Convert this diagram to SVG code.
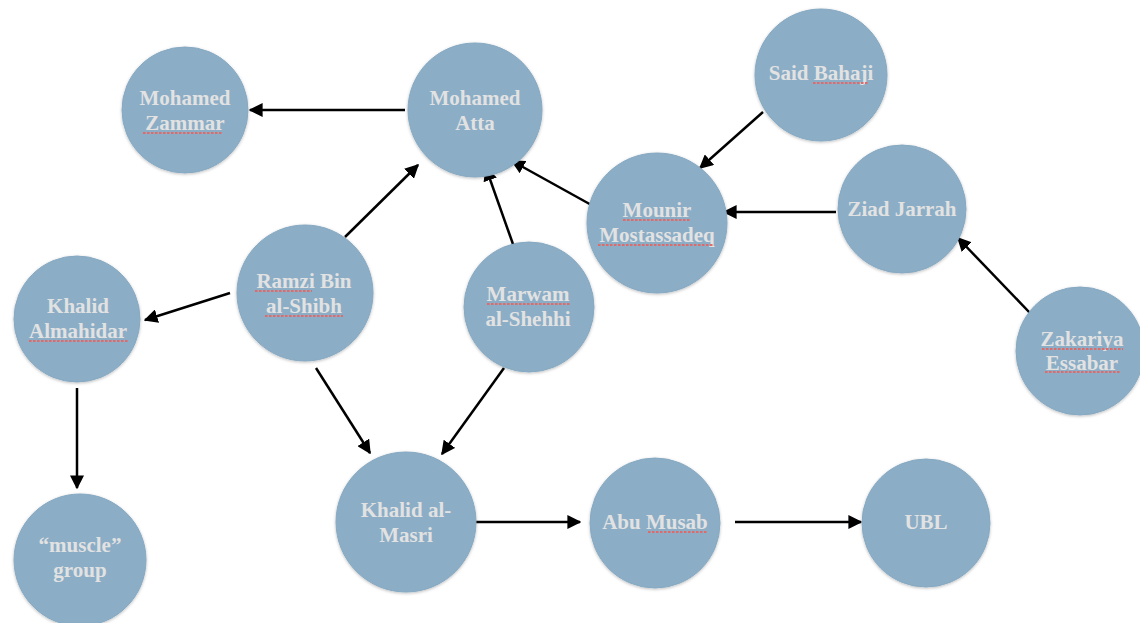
<svg xmlns="http://www.w3.org/2000/svg" width="1140" height="623" viewBox="0 0 1140 623">
<defs>
<style>
.n{fill:#8badc6;stroke:#86a9c2;stroke-width:1}
.t{font-family:"Liberation Serif","Times New Roman",serif;font-weight:bold;font-size:21px;fill:#e2e2e2;text-anchor:middle}
.e{stroke:#000;stroke-width:2.5;fill:none;marker-end:url(#ah)}
.sq{stroke:#e06a6a;stroke-width:1.8;stroke-dasharray:2.5 1.5;fill:none}
</style>
<marker id="ah" viewBox="0 0 10 10" refX="9" refY="5" markerWidth="5.6" markerHeight="5.6" orient="auto" markerUnits="strokeWidth">
<path d="M0,0 L10,5 L0,10 z" fill="#000"/>
</marker>
<filter id="sh" x="-10%" y="-10%" width="120%" height="120%">
<feDropShadow dx="0" dy="1" stdDeviation="1.5" flood-color="#000" flood-opacity="0.25"/>
</filter>
</defs>
<rect width="1140" height="623" fill="#fff"/>
<g id="connectors">
<line class="e" x1="405" y1="110" x2="250" y2="110"/>
<line class="e" x1="763" y1="112" x2="700" y2="168"/>
<line class="e" x1="595" y1="207" x2="512" y2="161"/>
<line class="e" x1="836" y1="212" x2="724" y2="212"/>
<line class="e" x1="1030" y1="313" x2="958" y2="238"/>
<line class="e" x1="345" y1="237" x2="418" y2="165"/>
<line class="e" x1="514" y1="247" x2="486" y2="168"/>
<line class="e" x1="230" y1="293" x2="145" y2="320"/>
<line class="e" x1="77" y1="388" x2="77" y2="488"/>
<line class="e" x1="316" y1="368" x2="370" y2="453"/>
<line class="e" x1="504" y1="368" x2="442" y2="454"/>
<line class="e" x1="476" y1="522" x2="580" y2="522"/>
<line class="e" x1="735" y1="522" x2="861" y2="522"/>
</g>
<g id="n-zammar"><circle class="n" filter="url(#sh)" cx="185" cy="110" r="63"/><text class="t" x="185" y="105">Mohamed</text><text class="t" x="185" y="130">Zammar</text><line class="sq" x1="143" y1="133" x2="223" y2="133"/></g>
<g id="n-atta"><circle class="n" filter="url(#sh)" cx="475" cy="110" r="67"/><text class="t" x="475" y="105">Mohamed</text><text class="t" x="475" y="130">Atta</text></g>
<g id="n-bahaji"><circle class="n" filter="url(#sh)" cx="821" cy="75" r="66"/><text class="t" x="821" y="80">Said Bahaji</text><line class="sq" x1="813" y1="83" x2="869" y2="83"/></g>
<g id="n-mounir"><circle class="n" filter="url(#sh)" cx="657" cy="223" r="70"/><text class="t" x="657" y="217">Mounir</text><text class="t" x="657" y="242">Mostassadeq</text><line class="sq" x1="623" y1="220" x2="690" y2="220"/><line class="sq" x1="598" y1="245" x2="713" y2="245"/></g>
<g id="n-ziad"><circle class="n" filter="url(#sh)" cx="902" cy="209" r="64"/><text class="t" x="902" y="216">Ziad Jarrah</text></g>
<g id="n-zakariya"><circle class="n" filter="url(#sh)" cx="1080" cy="351" r="64"/><text class="t" x="1082" y="346">Zakariya</text><text class="t" x="1082" y="370">Essabar</text><line class="sq" x1="1042" y1="349" x2="1123" y2="349"/><line class="sq" x1="1045" y1="372" x2="1120" y2="372"/></g>
<g id="n-almahidar"><circle class="n" filter="url(#sh)" cx="77" cy="319" r="63"/><text class="t" x="78" y="313">Khalid</text><text class="t" x="78" y="338">Almahidar</text><line class="sq" x1="29" y1="341" x2="128" y2="341"/></g>
<g id="n-ramzi"><circle class="n" filter="url(#sh)" cx="305" cy="293" r="68"/><text class="t" x="304" y="288">Ramzi Bin</text><text class="t" x="304" y="313">al-Shibh</text><line class="sq" x1="255" y1="291" x2="312" y2="291"/><line class="sq" x1="265" y1="316" x2="343" y2="316"/></g>
<g id="n-marwam"><circle class="n" filter="url(#sh)" cx="529" cy="307" r="65"/><text class="t" x="528" y="301">Marwam</text><text class="t" x="528" y="326">al-Shehhi</text><line class="sq" x1="487" y1="304" x2="570" y2="304"/></g>
<g id="n-masri"><circle class="n" filter="url(#sh)" cx="406" cy="522" r="70"/><text class="t" x="406" y="517">Khalid al-</text><text class="t" x="406" y="542">Masri</text></g>
<g id="n-abumusab"><circle class="n" filter="url(#sh)" cx="655" cy="523" r="65"/><text class="t" x="655" y="529">Abu Musab</text><line class="sq" x1="648" y1="532" x2="708" y2="532"/></g>
<g id="n-ubl"><circle class="n" filter="url(#sh)" cx="926" cy="523" r="64"/><text class="t" x="926" y="529">UBL</text></g>
<g id="n-muscle"><circle class="n" filter="url(#sh)" cx="80" cy="560" r="66"/><text class="t" x="80" y="552">“muscle”</text><text class="t" x="80" y="577">group</text></g>
</svg>
